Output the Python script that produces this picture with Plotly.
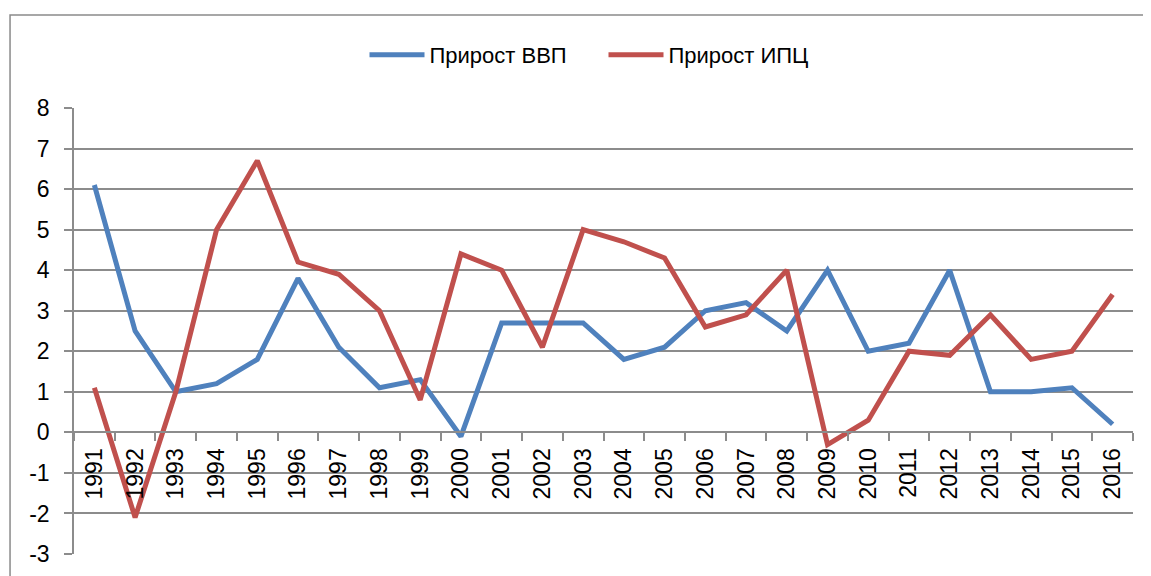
import plotly.graph_objects as go

years = [str(y) for y in range(1991, 2017)]
gdp = [6.1, 2.5, 1.0, 1.2, 1.8, 3.8, 2.1, 1.1, 1.3, -0.1, 2.7, 2.7, 2.7, 1.8, 2.1,
       3.0, 3.2, 2.5, 4.0, 2.0, 2.2, 4.0, 1.0, 1.0, 1.1, 0.2]
cpi = [1.1, -2.1, 1.0, 5.0, 6.7, 4.2, 3.9, 3.0, 0.8, 4.4, 4.0, 2.1, 5.0, 4.7, 4.3,
       2.6, 2.9, 4.0, -0.3, 0.3, 2.0, 1.9, 2.9, 1.8, 2.0, 3.4]
series_names = ["Прирост ВВП", "Прирост ИПЦ"]
y_ticks = list(range(-3, 9))
y_ticktext = [str(v) for v in y_ticks]  # plain hyphen minus like the original
y_min, y_max = -3, 8

FONT = "Liberation Sans"
GRID = "#8c8c8c"

fig = go.Figure()
fig.add_trace(go.Scatter(x=years, y=gdp, mode="lines", name=series_names[0],
                         line=dict(color="#4F81BD", width=5)))
fig.add_trace(go.Scatter(x=years, y=cpi, mode="lines", name=series_names[1],
                         line=dict(color="#C0504D", width=5)))

zero_pos = (0 - y_min) / (y_max - y_min)

fig.update_layout(
    width=1151, height=576,
    margin=dict(l=66, r=26, t=100, b=30, autoexpand=False),
    paper_bgcolor="white", plot_bgcolor="white",
    font=dict(family=FONT, size=22, color="#000000"),
    showlegend=True,
    legend=dict(orientation="h", x=0.5, xanchor="center", y=1.119, yanchor="middle",
                font=dict(size=22), itemwidth=55, entrywidth=169,
                entrywidthmode="pixels", bgcolor="rgba(0,0,0,0)"),
    xaxis=dict(type="category", range=[-0.5, len(years) - 0.5],
               anchor="free", position=zero_pos, automargin=False,
               showgrid=False, showline=True, linecolor=GRID, linewidth=1.5,
               ticks="outside", tickson="boundaries", ticklen=8, tickcolor=GRID,
               tickwidth=1.5, tickangle=-90, tickfont=dict(size=23),
               ticklabelstandoff=6, zeroline=False),
    yaxis=dict(range=[y_min, y_max], tickvals=y_ticks, ticktext=y_ticktext,
               automargin=False,
               showgrid=True, gridcolor=GRID, gridwidth=1.5,
               showline=True, linecolor=GRID, linewidth=1.5,
               ticks="outside", ticklen=8, tickcolor=GRID, tickwidth=1.5,
               tickfont=dict(size=23), zeroline=False, ticklabelstandoff=10),
    shapes=[dict(type="rect", xref="paper", yref="paper",
                 x0=-0.0604, x1=1.05, y0=-0.2, y1=1.2085,
                 line=dict(color="#8a8a8a", width=1.5), fillcolor="rgba(0,0,0,0)",
                 layer="below")],
)

fig.write_html("out.html")
